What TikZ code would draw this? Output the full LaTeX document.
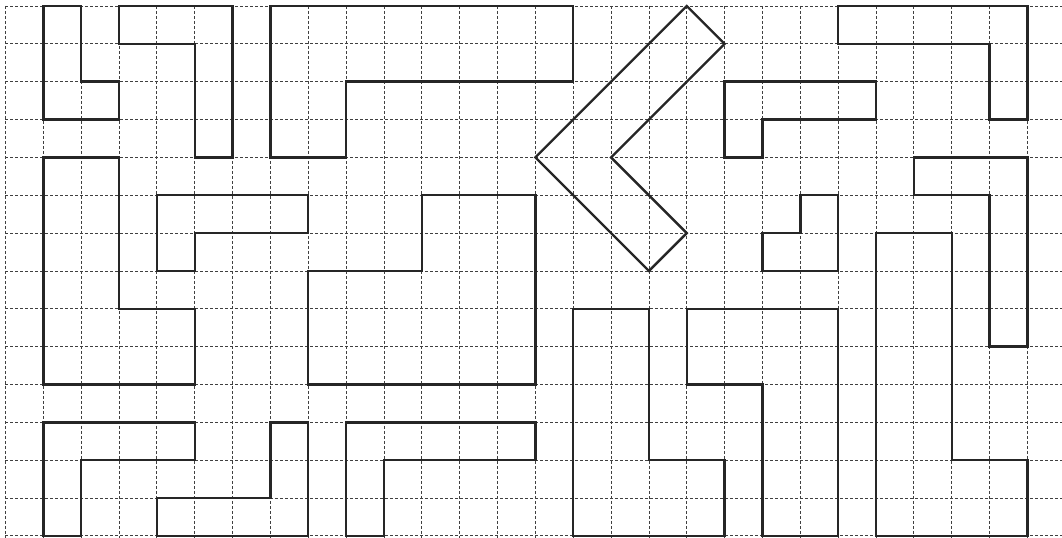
\documentclass[tikz,border=0pt]{standalone}
\begin{document}
\begin{tikzpicture}[x=37.85pt,y=-37.85pt,
  gridline/.style={line width=0.8pt,black!75,dash pattern=on 3pt off 2pt},
  figure/.style={line width=2.4pt,black!85,line join=miter}]
\useasboundingbox (-0.1453,-0.1585) rectangle (27.914,14.055);
% grid
\foreach \i in {0,...,27} \draw[gridline] (\i,0) -- (\i,14.1);
\foreach \j in {0,...,14} \draw[gridline] (0,\j) -- (28,\j);
% shapes
\draw[figure] (1,0)--(2,0)--(2,2)--(3,2)--(3,3)--(1,3)--cycle;
\draw[figure] (3,0)--(6,0)--(6,4)--(5,4)--(5,1)--(3,1)--cycle;
\draw[figure] (7,0)--(15,0)--(15,2)--(9,2)--(9,4)--(7,4)--cycle;
\draw[figure] (18,0)--(19,1)--(16,4)--(18,6)--(17,7)--(14,4)--cycle;
\draw[figure] (19,2)--(23,2)--(23,3)--(20,3)--(20,4)--(19,4)--cycle;
\draw[figure] (22,0)--(27,0)--(27,3)--(26,3)--(26,1)--(22,1)--cycle;
\draw[figure] (1,4)--(3,4)--(3,8)--(5,8)--(5,10)--(1,10)--cycle;
\draw[figure] (4,5)--(8,5)--(8,6)--(5,6)--(5,7)--(4,7)--cycle;
\draw[figure] (11,5)--(14,5)--(14,10)--(8,10)--(8,7)--(11,7)--cycle;
\draw[figure] (21,5)--(22,5)--(22,7)--(20,7)--(20,6)--(21,6)--cycle;
\draw[figure] (24,4)--(27,4)--(27,9)--(26,9)--(26,5)--(24,5)--cycle;
\draw[figure] (23,6)--(25,6)--(25,12)--(27,12)--(27,14)--(23,14)--cycle;
\draw[figure] (15,8)--(17,8)--(17,12)--(19,12)--(19,14)--(15,14)--cycle;
\draw[figure] (18,8)--(22,8)--(22,14)--(20,14)--(20,10)--(18,10)--cycle;
\draw[figure] (1,11)--(5,11)--(5,12)--(2,12)--(2,14)--(1,14)--cycle;
\draw[figure] (4,13)--(7,13)--(7,11)--(8,11)--(8,14)--(4,14)--cycle;
\draw[figure] (9,11)--(14,11)--(14,12)--(10,12)--(10,14)--(9,14)--cycle;
\end{tikzpicture}
\end{document}
